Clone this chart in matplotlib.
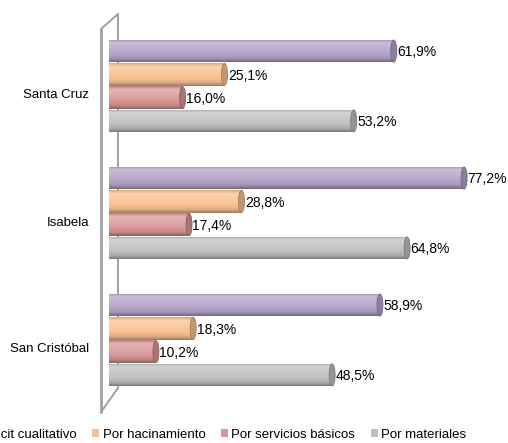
import numpy as np
import matplotlib
matplotlib.use('Agg')
import matplotlib.pyplot as plt
from matplotlib.patches import Ellipse
from matplotlib.lines import Line2D
import matplotlib.transforms as mtransforms
from matplotlib.colors import to_rgb

categories = ['Santa Cruz', 'Isabela', 'San Cristóbal']
series = ['Déficit cualitativo', 'Por hacinamiento', 'Por servicios básicos', 'Por materiales']
deficit_cualitativo = [61.9, 77.2, 58.9]
por_hacinamiento = [25.1, 28.8, 18.3]
por_servicios_basicos = [16.0, 17.4, 10.2]
por_materiales = [53.2, 64.8, 48.5]
colors = ['#B3A2C7', '#FAC090', '#D99694', '#BFBFBF']

plt.rcParams['font.family'] = ['Liberation Sans', 'DejaVu Sans']

W, H = 508, 443
fig = plt.figure(figsize=(W / 100, H / 100), dpi=100)
ax_left = 109
ax = fig.add_axes([ax_left / W, 0, 1 - ax_left / W, 1])
ax.patch.set_visible(False)
for s in ax.spines.values():
    s.set_visible(False)

px_per_unit = 4.6
ax.set_xlim(0, (W - ax_left) / px_per_unit)
y0px, step = 86, 127
ylim = ((H - y0px) / step, -y0px / step)
ax.set_ylim(*ylim)
xlim = ax.get_xlim()


# 3D wall outline (decoration)
def fx(x):
    return x / W


def fy(y):
    return 1 - y / H


wall_col = '#a0a0a0'
segs = [((101, 29), (101, 412), 2.0), ((118, 14), (118, 388), 1.4),
        ((101, 29), (118, 14), 1.4), ((101, 412), (118, 388), 1.4)]
for (a, b, lw) in segs:
    fig.add_artist(Line2D([fx(a[0]), fx(b[0])], [fy(a[1]), fy(b[1])],
                          transform=fig.transFigure, color=wall_col, lw=lw,
                          zorder=-1, solid_capstyle='round'))

y = np.arange(len(categories))
bar_step = 23.3 / step
bar_h = 0.178
all_series = [deficit_cualitativo, por_hacinamiento, por_servicios_basicos, por_materiales]


def shade(c, f):
    c = np.array(to_rgb(c))
    if f >= 0:
        return c + (1 - c) * f
    return c * (1 + f)


stops = [(0.0, -0.12), (0.15, 0.3), (0.38, 0.18), (0.65, 0.02), (0.85, -0.1), (1.0, -0.35)]

handles = []
for k, (vals, col) in enumerate(zip(all_series, colors)):
    pos = y + (k - 1.5) * bar_step
    bars = ax.barh(pos, vals, height=bar_h, color=col, zorder=2)
    handles.append(bars)
    N = 40
    t = np.linspace(0, 1, N)
    grad = np.zeros((N, 1, 3))
    for ch in range(3):
        grad[:, 0, ch] = np.interp(t, [s[0] for s in stops],
                                   [shade(col, s[1])[ch] for s in stops])
    for p, v, patch in zip(pos, vals, bars.patches):
        im = ax.imshow(grad, extent=[0, v, p + bar_h / 2, p - bar_h / 2],
                       aspect='auto', zorder=3, interpolation='bilinear')
        im.set_clip_path(patch)
        cap = Ellipse((v, p), width=1.3, height=bar_h * 0.98,
                      facecolor=shade(col, -0.22), edgecolor=shade(col, -0.35),
                      lw=0.6, zorder=4)
        ax.add_patch(cap)
        ax.text(v + 0.75, p + 0.01, f'{v:.1f}%'.replace('.', ','),
                va='center', ha='left', fontsize=10, color='#000000', zorder=5)

ax.set_xlim(*xlim)
ax.set_ylim(*ylim)
ax.set_xticks([])
ax.set_yticks(y)
ax.set_yticklabels(categories, fontsize=9.5)
ax.tick_params(axis='y', length=0, pad=20 * 0.72)
offset = mtransforms.ScaledTranslation(0, -8 / 100, fig.dpi_scale_trans)
for lab in ax.get_yticklabels():
    lab.set_transform(lab.get_transform() + offset)

fig.legend(handles, series, loc='center left', bbox_to_anchor=(-33 / W, fy(435)),
           ncol=4, frameon=False, fontsize=9.5, handlelength=0.53,
           handleheight=0.53, handletextpad=0.23, columnspacing=1.2,
           borderpad=0, borderaxespad=0)

fig.savefig('out.png', dpi=100)
